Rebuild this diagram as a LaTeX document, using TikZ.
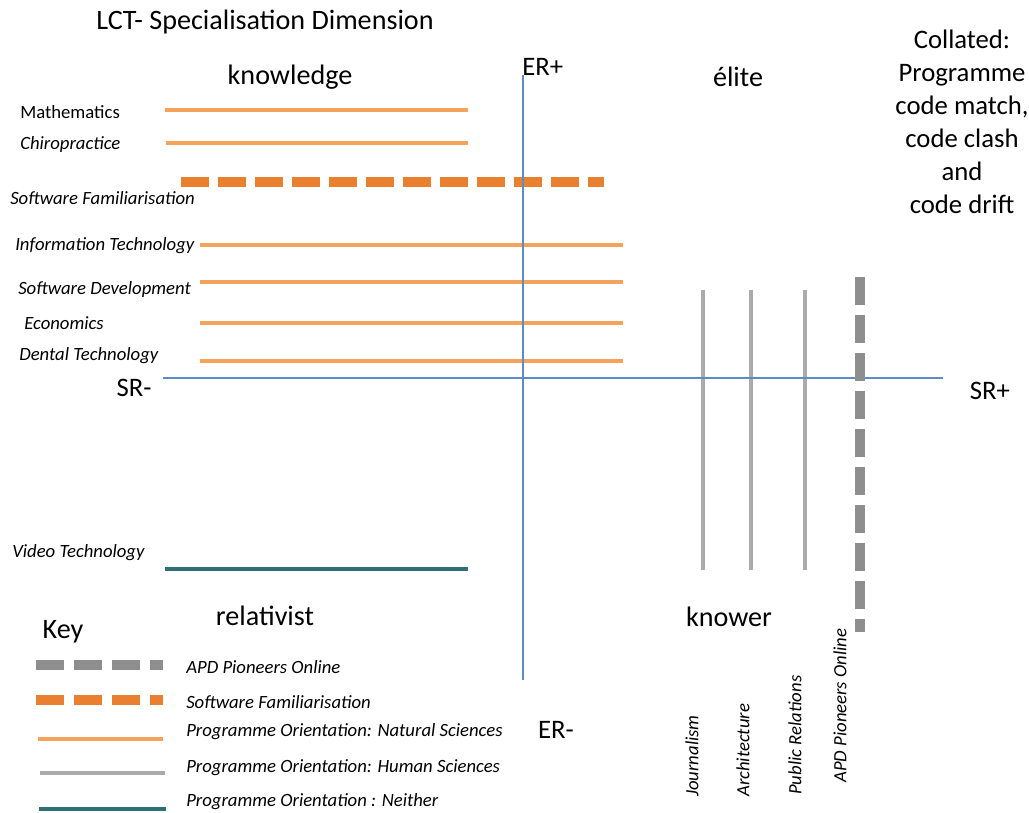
\documentclass[tikz,border=0pt]{standalone}
\usepackage{fontspec}
\setmainfont{Carlito}
\usepackage{tikz}
\pgfdeclarelayer{bg}
\pgfsetlayers{bg,main}
\definecolor{axisblue}{HTML}{5B8CC5}
\definecolor{natorange}{HTML}{F5A35B}
\definecolor{sforange}{HTML}{E8802F}
\definecolor{humgrey}{HTML}{ABABAB}
\definecolor{apdgrey}{HTML}{8E8E8E}
\definecolor{neitherteal}{HTML}{2F6F78}
\tikzset{
    every node/.style={inner sep=0mm}
}
\tikzset{
    bigtext/.style={font=\fontsize{20}{23.5}\selectfont},
    axistext/.style={font=\fontsize{19}{22}\selectfont},
    progtext/.style={font=\fontsize{13.3}{15}\selectfont\itshape, anchor=west},
    axisline/.style={axisblue, line width=1.5pt},
    natline/.style={natorange, line width=3pt},
    sfline/.style={sforange, line width=7pt, dash pattern=on 0.7cm off 0.225cm},
    humline/.style={humgrey, line width=3pt},
    apdline/.style={apdgrey, line width=7pt, dash pattern=on 0.7cm off 0.25cm},
    neitherline/.style={neitherteal, line width=3pt}
}

\begin{document}
\begin{tikzpicture}[x=0.025cm, y=-0.025cm]
    \useasboundingbox (0,0) rectangle (1029,812);

    \node (title) [bigtext] at (265, 22) {LCT- Specialisation Dimension};
    \node (knowledge) [bigtext] at (290, 77) {knowledge};
    \node (elite) [bigtext] at (738, 77) {élite};
    \node (relativist) [bigtext] at (265, 616) {relativist};
    \node (knower) [bigtext] at (729, 617) {knower};
    \node (collated) [axistext, font=\fontsize{19}{23.5}\selectfont, align=center] at (962, 122) {Collated:\\ Programme\\ code match,\\ code clash\\ and\\ code drift};

    \node (ERp) [axistext, anchor=west] at (522, 67) {ER+};
    \node (ERm) [axistext] at (556, 730) {ER-};
    \node (SRm) [axistext] at (134, 388) {SR-};
    \node (SRp) [axistext] at (990, 391) {SR+};

    \node (math) [progtext, font=\fontsize{13.3}{15}\selectfont] at (20, 112) {Mathematics};
    \node (chiro) [progtext] at (20, 145) {Chiropractice};
    \node (sf) [progtext] at (10, 198) {Software Familiarisation};
    \node (it) [progtext] at (15, 246) {Information Technology};
    \node (sd) [progtext] at (18, 290) {Software Development};
    \node (econ) [progtext] at (24, 323) {Economics};
    \node (dental) [progtext] at (19, 356) {Dental Technology};
    \node (video) [progtext] at (12, 553) {Video Technology};

    \node (journ) [progtext, rotate=90] at (692, 797) {Journalism};
    \node (arch) [progtext, rotate=90] at (743, 797) {Architecture};
    \node (pr) [progtext, rotate=90] at (795, 795) {Public Relations};
    \node (apd) [progtext, rotate=90] at (840, 783) {APD Pioneers Online};

    \coordinate (math1) at (165, 110);  \coordinate (math2) at (468, 110);
    \coordinate (chiro1) at (166, 143); \coordinate (chiro2) at (468, 143);
    \coordinate (sf1) at (181, 182);    \coordinate (sf2) at (604, 182);
    \coordinate (it1) at (200, 245);    \coordinate (it2) at (623, 245);
    \coordinate (sd1) at (200, 282);    \coordinate (sd2) at (623, 282);
    \coordinate (econ1) at (200, 323);  \coordinate (econ2) at (623, 323);
    \coordinate (dental1) at (200, 361); \coordinate (dental2) at (623, 361);
    \coordinate (video1) at (165, 569); \coordinate (video2) at (468, 569);
    \coordinate (journ1) at (703, 290); \coordinate (journ2) at (703, 570);
    \coordinate (arch1) at (751, 290);  \coordinate (arch2) at (751, 570);
    \coordinate (pr1) at (805, 290);    \coordinate (pr2) at (805, 570);
    \coordinate (apd1) at (860, 277);   \coordinate (apd2) at (860, 632);

    \coordinate (erp) at (523, 75);
    \coordinate (erm) at (523, 680);
    \coordinate (srm) at (163, 378);
    \coordinate (srp) at (943, 378);

    \begin{pgfonlayer}{bg}
        \draw [natline] (math1) -- (math2);
        \draw [natline] (chiro1) -- (chiro2);
        \draw [sfline] (sf1) -- (sf2);
        \draw [natline] (it1) -- (it2);
        \draw [natline] (sd1) -- (sd2);
        \draw [natline] (econ1) -- (econ2);
        \draw [natline] (dental1) -- (dental2);
        \draw [neitherline] (video1) -- (video2);
        \draw [humline] (journ1) -- (journ2);
        \draw [humline] (arch1) -- (arch2);
        \draw [humline] (pr1) -- (pr2);
    \end{pgfonlayer}

    \draw [axisline] (erp) -- (erm);
    \draw [axisline] (srm) -- (srp);
    \draw [apdline] (apd1) -- (apd2);

    % key
    \node (key) [bigtext] at (63, 632) {Key};
    \coordinate (kapd1) at (36, 665);  \coordinate (kapd2) at (163, 665);
    \coordinate (ksf1) at (36, 700);   \coordinate (ksf2) at (163, 700);
    \coordinate (knat1) at (38, 739);  \coordinate (knat2) at (163, 739);
    \coordinate (khum1) at (40, 773);  \coordinate (khum2) at (165, 773);
    \coordinate (knei1) at (39, 809);  \coordinate (knei2) at (166, 809);
    \draw [apdline] (kapd1) -- (kapd2);
    \draw [sfline, dash pattern=on 0.7cm off 0.25cm] (ksf1) -- (ksf2);
    \draw [natline] (knat1) -- (knat2);
    \draw [humline] (khum1) -- (khum2);
    \draw [neitherline] (knei1) -- (knei2);
    \node (kapd) [progtext] at (186, 667) {APD Pioneers Online};
    \node (ksf) [progtext] at (186, 702) {Software Familiarisation};
    \node (knat) [progtext] at (186, 732) {Programme Orientation: Natural Sciences};
    \node (khum) [progtext] at (186, 768) {Programme Orientation: Human Sciences};
    \node (knei) [progtext] at (186, 802) {Programme Orientation : Neither};
\end{tikzpicture}
\end{document}
